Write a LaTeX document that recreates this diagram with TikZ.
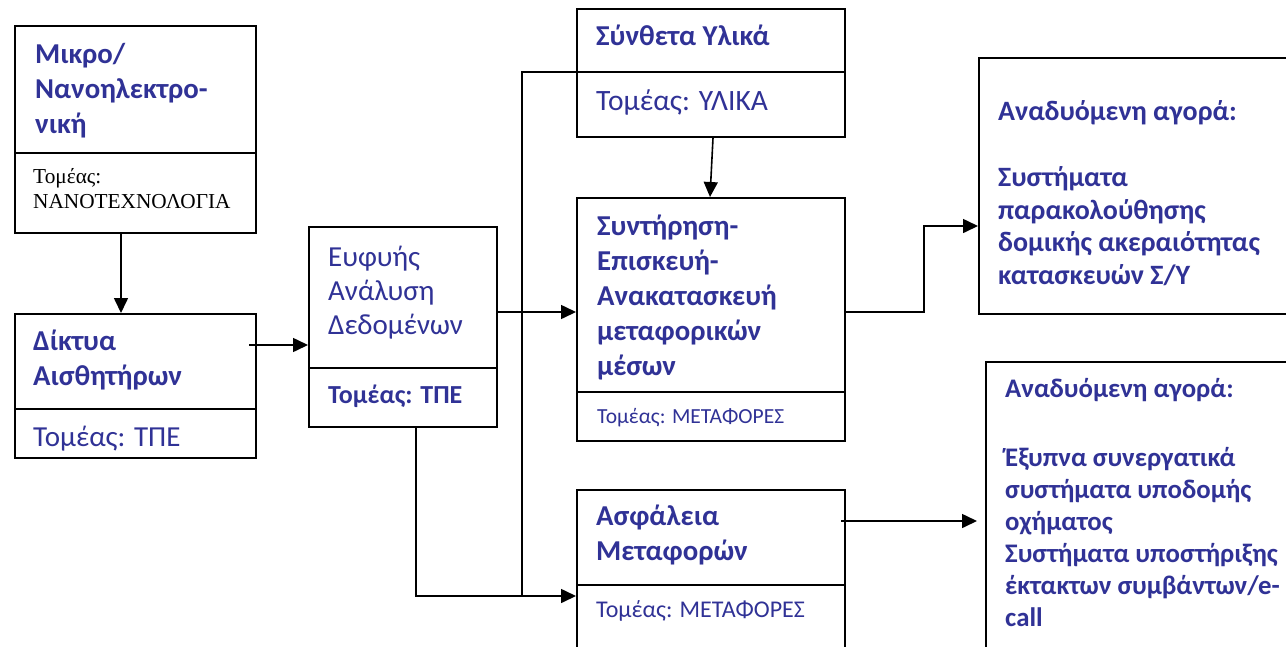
\documentclass[tikz,border=0pt]{standalone}
\usepackage{fontspec}
\setmainfont{Carlito}
\newfontfamily\timesgr{Liberation Serif}
\usetikzlibrary{arrows.meta,calc}
\definecolor{navy}{RGB}{48,50,150}
\tikzset{
  box/.style={draw, line width=2pt, anchor=north west, inner sep=0pt},
  rule/.style={line width=2pt},
  conn/.style={line width=1.6pt},
  arr/.style={conn, -{Triangle[length=15pt,width=14pt]}},
  txt/.style={anchor=base west, inner sep=0pt, align=left, text=navy},
  hd/.style={txt, font=\fontsize{28.8}{35}\selectfont\bfseries},
  rg/.style={txt, font=\fontsize{29}{34}\selectfont},
  mk/.style={txt, font=\fontsize{28}{32.4}\selectfont\bfseries},
  mk2/.style={txt, font=\fontsize{26.8}{32}\selectfont\bfseries},
}
\begin{document}
\begin{tikzpicture}[x=1pt,y=-1pt]
\clip (0,0) rectangle (1286,646);
\fill[white] (0,0) rectangle (1286,646);

% boxes
\node[box, minimum width=241pt, minimum height=207pt] (A) at (14,25) {};
\node[box, minimum width=241pt, minimum height=144pt] (B) at (14,313) {};
\node[box, minimum width=188pt, minimum height=200pt] (C) at (308,226) {};
\node[box, minimum width=268pt, minimum height=128pt] (D) at (576,8) {};
\node[box, minimum width=268pt, minimum height=243pt] (E) at (576,197) {};
\node[box, minimum width=268pt, minimum height=170pt] (F) at (576,489) {};
\node[box, minimum width=330pt, minimum height=256pt] (G) at (978,57) {};
\node[box, minimum width=330pt, minimum height=300pt] (H) at (985,361) {};

% dividers between title and sector
\draw[rule] (A.west |- 0,153) -- (A.east |- 0,153);
\draw[rule] (B.west |- 0,409) -- (B.east |- 0,409);
\draw[rule] (C.west |- 0,368) -- (C.east |- 0,368);
\draw[rule] (D.west |- 0,72) -- (D.east |- 0,72);
\draw[rule] (E.west |- 0,392) -- (E.east |- 0,392);
\draw[rule] (F.west |- 0,585) -- (F.east |- 0,585);

% texts (multi-line nodes are placed by the baseline of their last line)
\node[hd] (At) at (35,133) {Μικρο/\\Νανοηλεκτρο-\\νική};
\node[txt, text=black, font=\timesgr\fontsize{21.3}{25}\selectfont] (As) at (33,208) {Τομέας:\\ΝΑΝΟΤΕΧΝΟΛΟΓΙΑ};
\node[hd] (Bt) at (33,385) {Δίκτυα\\Αισθητήρων};
\node[txt, font=\fontsize{29}{34}\selectfont] (Bs) at (33,446) {Τομέας: ΤΠΕ};
\node[rg] (Ct) at (328,334) {Ευφυής\\Ανάλυση\\Δεδομένων};
\node[txt, font=\fontsize{26}{30}\selectfont\bfseries] (Cs) at (328,403) {Τομέας: ΤΠΕ};
\node[hd] (Dt) at (596,45) {Σύνθετα Υλικά};
\node[txt, font=\fontsize{29.5}{34}\selectfont] (Ds) at (596,110) {Τομέας: ΥΛΙΚΑ};
\node[hd] (Et) at (597,375) {Συντήρηση-\\Επισκευή-\\Ανακατασκευή\\μεταφορικών\\μέσων};
\node[txt, font=\fontsize{21.5}{26}\selectfont] (Es) at (597,423) {Τομέας: ΜΕΤΑΦΟΡΕΣ};
\node[hd] (Ft) at (596,560) {Ασφάλεια\\Μεταφορών};
\node[txt, font=\fontsize{24}{28}\selectfont] (Fs) at (596,617) {Τομέας: ΜΕΤΑΦΟΡΕΣ};
\node[mk] (Gt) at (998,284) {Αναδυόμενη αγορά:\\[34pt]Συστήματα\\παρακολούθησης\\δομικής ακεραιότητας\\κατασκευών Σ/Υ};
\node[mk2] (Ht) at (1005,626) {Αναδυόμενη αγορά:\\[37pt]Έξυπνα συνεργατικά\\συστήματα υποδομής\\οχήματος\\Συστήματα υποστήριξης\\έκτακτων συμβάντων/e-\\call};

% connectors
\coordinate (ab) at (121,0);
\draw[arr] (ab |- A.south) -- (ab |- B.north);
\coordinate (bc) at (249,345);
\draw[arr] (bc) -- (bc -| C.west);
\coordinate (ce) at (0,312);
\draw[arr] (ce -| C.east) -- (ce -| E.west);
\coordinate (bus) at (522,72);
\coordinate (cf) at (416,596);
\draw[conn] (D.west |- bus) -- (bus) -- (bus |- cf);
\draw[arr] (cf |- C.south) -- (cf) -- (cf -| F.west);
\coordinate (de1) at (713,0);
\coordinate (de2) at (710,0);
\draw[arr] (de1 |- D.south) -- (de2 |- E.north);
\coordinate (eg) at (924,226);
\draw[arr] (E.east |- ce) -| (eg) -- (eg -| G.west);
\coordinate (fh) at (841,521);
\draw[arr, shorten >=8pt] (fh) -- (fh -| H.west);
\end{tikzpicture}
\end{document}
